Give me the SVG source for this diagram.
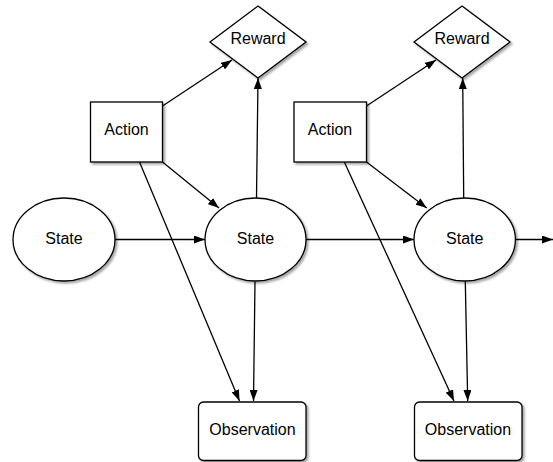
<svg xmlns="http://www.w3.org/2000/svg" width="553" height="462" viewBox="0 0 553 462">
<style>
.shape{fill:#fff;stroke:#000;stroke-width:1.3;filter:url(#sh)}
.lbl{font-family:"Liberation Sans",Arial,Helvetica,sans-serif;font-size:16px;fill:#000;text-anchor:middle}
.edge{stroke:#000;stroke-width:1.3;fill:none;marker-end:url(#arr)}
</style>
<defs>
<filter id="sh" x="-20%" y="-20%" width="150%" height="150%">
<feDropShadow dx="2" dy="2" stdDeviation="1.2" flood-color="#000" flood-opacity="0.35"/>
</filter>
<marker id="arr" viewBox="0 0 11 8" refX="11" refY="4" markerWidth="11" markerHeight="8" markerUnits="userSpaceOnUse" orient="auto">
<path d="M0,0 L11,4 L0,8 Z" fill="#000"/>
</marker>
</defs>
<rect width="553" height="462" fill="#fff"/>
<g id="connectors">
<line class="edge" x1="162.5" y1="106" x2="232" y2="60"/>
<line class="edge" x1="256.5" y1="198" x2="258" y2="78"/>
<line class="edge" x1="162.5" y1="162" x2="219" y2="208"/>
<line class="edge" x1="139.5" y1="162" x2="239.5" y2="401"/>
<line class="edge" x1="255" y1="281.5" x2="253.5" y2="401"/>
<line class="edge" x1="115" y1="239.5" x2="205" y2="239.5"/>
<line class="edge" x1="306" y1="239.5" x2="414" y2="239.5"/>
<line class="edge" x1="515.5" y1="239.5" x2="553" y2="239.5"/>
<line class="edge" x1="366.5" y1="106" x2="436" y2="60"/>
<line class="edge" x1="463.7" y1="198" x2="462.7" y2="78"/>
<line class="edge" x1="366.5" y1="162" x2="426.7" y2="208"/>
<line class="edge" x1="344.3" y1="162" x2="454" y2="401"/>
<line class="edge" x1="465.3" y1="281.5" x2="467.7" y2="401"/>
</g>
<g id="reward1"><polygon class="shape" points="258,6 306,42 258,78 210,42"/><text class="lbl" x="258" y="44">Reward</text></g>
<g id="action1"><rect class="shape" x="90.5" y="102" width="72" height="60"/><text class="lbl" x="126.5" y="135">Action</text></g>
<g id="state1"><ellipse class="shape" cx="64" cy="239.5" rx="51" ry="41.5"/><text class="lbl" x="64" y="244">State</text></g>
<g id="state2"><ellipse class="shape" cx="255.5" cy="239.5" rx="50.5" ry="41.5"/><text class="lbl" x="255.5" y="244">State</text></g>
<g id="observation1"><rect class="shape" x="198.5" y="402" width="107.5" height="58.5" rx="5"/><text class="lbl" x="252.5" y="435">Observation</text></g>
<g id="reward2"><polygon class="shape" points="462,6 510,42 462,78 414,42"/><text class="lbl" x="462" y="44">Reward</text></g>
<g id="action2"><rect class="shape" x="294" y="102" width="72.5" height="60"/><text class="lbl" x="330" y="135">Action</text></g>
<g id="state3"><ellipse class="shape" cx="464.7" cy="239.5" rx="50.7" ry="41.5"/><text class="lbl" x="464.7" y="244">State</text></g>
<g id="observation2"><rect class="shape" x="414.5" y="402" width="107.5" height="58.5" rx="5"/><text class="lbl" x="468" y="435">Observation</text></g>
</svg>
